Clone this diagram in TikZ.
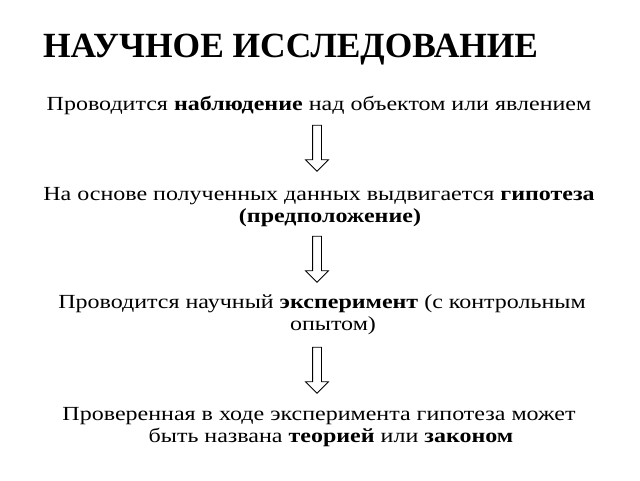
\documentclass[tikz,border=0pt]{standalone}
\usepackage{fontspec}
\setmainfont{Liberation Serif}
\newfontfamily\stepfont{Liberation Serif}[FakeStretch=1.2]
\usetikzlibrary{shapes.arrows}
\tikzset{
    titlenode/.style = {anchor=base west, inner sep=0pt, font=\fontsize{35.4}{40}\selectfont\bfseries},
    stepnode/.style = {anchor=base, inner sep=0pt, align=center, font=\stepfont\fontsize{20}{22}\selectfont},
    downarrow/.style = {single arrow, draw=black, thick, fill=white, rotate=-90, inner sep=4pt,
        minimum height=46pt, minimum width=22pt, single arrow head extend=7pt},
}
\begin{document}
\begin{tikzpicture}[x=1pt,y=-1pt]
\useasboundingbox (0,0) rectangle (640,480);
\node[titlenode] at (43,57) (title) {НАУЧНОЕ ИССЛЕДОВАНИЕ};
%
\node[stepnode] at (319,110) (s1) {Проводится \textbf{наблюдение} над объектом или явлением};
\node[stepnode] at (330,222) (s2) {На основе полученных данных выдвигается \textbf{гипотеза}\hspace*{22pt}\\\textbf{(предположение)}};
\node[stepnode] at (333,330) (s3) {Проводится научный \textbf{эксперимент} (с контрольным\hspace*{22pt}\\опытом)};
\node[stepnode] at (331,442) (s4) {Проверенная в ходе эксперимента гипотеза может\hspace*{24pt}\\быть названа \textbf{теорией} или \textbf{законом}};
%
\node[downarrow] at (317,146) (a1) {};
\node[downarrow] at (317,257) (a2) {};
\node[downarrow] at (317,368) (a3) {};
\end{tikzpicture}
\end{document}
